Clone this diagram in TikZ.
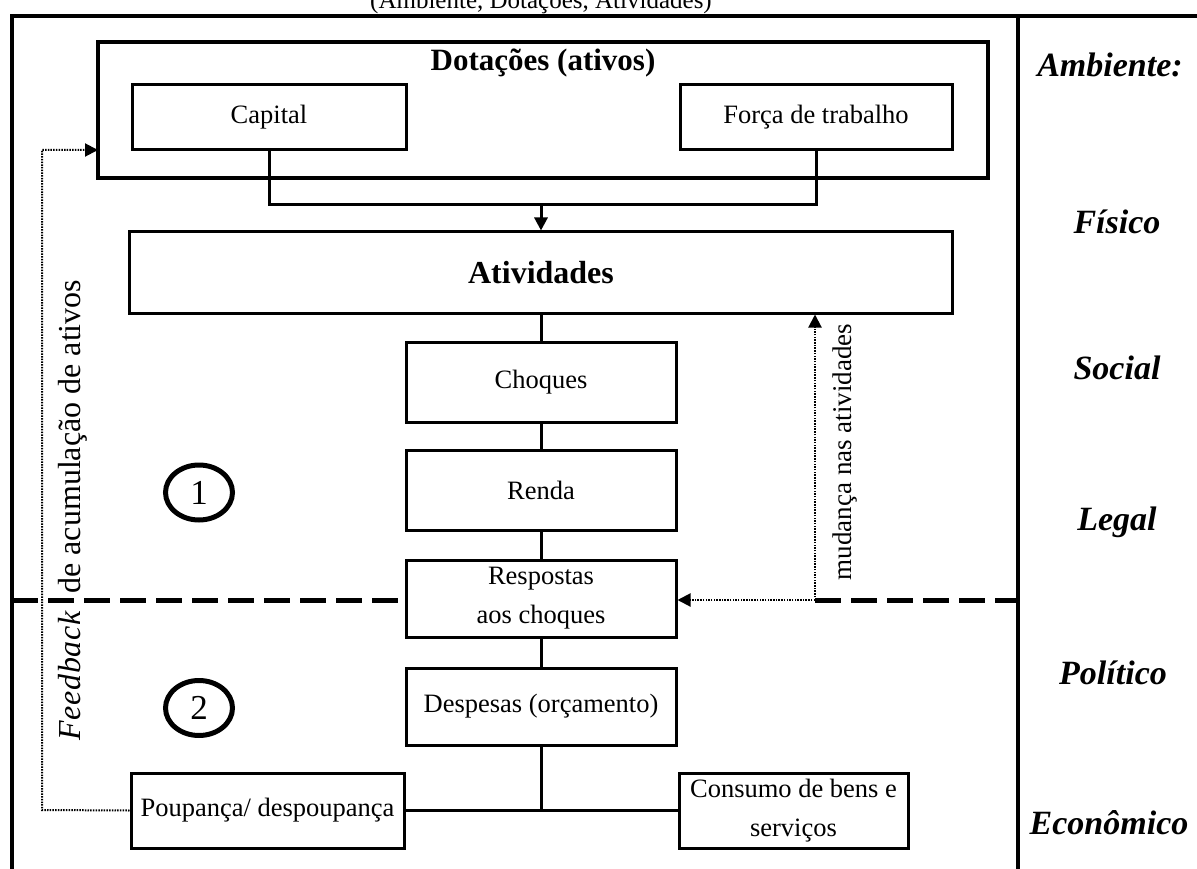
\documentclass[tikz,border=0pt]{standalone}
\usepackage{fontspec}
\setmainfont{Liberation Serif}
\usetikzlibrary{arrows.meta,shapes.geometric,calc}
\tikzset{
  box/.style={draw, line width=3pt, inner sep=0pt, align=center, font=\fontsize{26.5}{39}\selectfont},
  conn/.style={line width=3pt},
  dotline/.style={line width=2pt, dash pattern=on 1.5pt off 1.2pt},
  tip/.style={-{Triangle[length=13pt,width=13pt]}},
  frame/.style={line width=4pt},
  sep/.style={line width=5pt, dash pattern=on 26pt off 10pt},
  envlabel/.style={font=\fontsize{34}{36}\selectfont\bfseries\itshape},
  num/.style={draw, ellipse, line width=5pt, minimum width=67pt, minimum height=55pt, inner sep=0pt, font=\fontsize{35}{35}\selectfont},
  rot/.style={rotate=90, inner sep=0pt, anchor=base}
}
\begin{document}
\begin{tikzpicture}[x=1pt,y=-1pt]
\useasboundingbox (0,0) rectangle (1197,869);
% title (partly cut off, as in the reference)
\node[anchor=base, font=\fontsize{25}{25}\selectfont] (title) at (541,9) {(Ambiente, Dotações, Atividades)};
% frame
\coordinate (ftl) at (12,16);
\coordinate (fbl) at (12,869);
\coordinate (ftr) at (1197,16);
\coordinate (fst) at (1018,16);
\coordinate (fsb) at (1018,869);
\draw[frame] (fbl) -- (ftl) -- (ftr);
\draw[frame] (fst) -- (fsb);
% boxes
\node[box, line width=4.5pt, minimum width=890pt, minimum height=136pt] (dot) at (543,110) {};
\node[anchor=base, font=\fontsize{31}{31}\selectfont\bfseries] (dottitle) at (543,71) {Dotações (ativos)};
\node[box, minimum width=274pt, minimum height=65pt] (cap) at (269,117.5) {Capital};
\node[box, minimum width=272pt, minimum height=65pt] (ft) at (816,117.5) {Força de trabalho};
\node[box, minimum width=823pt, minimum height=81pt, font=\fontsize{32}{32}\selectfont\bfseries] (atv) at (541,272.5) {Atividades};
\node[box, minimum width=270pt, minimum height=80pt] (cho) at (541,382) {Choques};
\node[box, minimum width=270pt, minimum height=80pt] (ren) at (541,490) {Renda};
\node[box, minimum width=270pt, minimum height=77pt] (res) at (541,598.5) {Respostas\\aos choques};
\node[box, minimum width=270pt, minimum height=77pt] (des) at (541,706.5) {Despesas (orçamento)};
\node[box, minimum width=273pt, minimum height=75pt] (pou) at (267.5,810.5) {Poupança/ despoupança};
\node[box, minimum width=229pt, minimum height=75pt] (con) at (793.5,810.5) {Consumo de bens e\\serviços};
% numbered circles
\node[num] (n1) at (199,492.5) {1};
\node[num] (n2) at (199,708) {2};
% connectors
\coordinate (j) at (541,205);
\draw[conn] (cap.south) -- (cap.south |- j) -- (ft.south |- j) -- (ft.south);
\draw[conn, tip] (j) -- (atv.north);
\draw[conn] (atv.south) -- (cho.north);
\draw[conn] (cho.south) -- (ren.north);
\draw[conn] (ren.south) -- (res.north);
\draw[conn] (res.south) -- (des.north);
\draw[conn] (pou.east) -- (con.west);
\draw[conn] (des.south) -- (des.south |- pou.east);
% separator
\coordinate (mc) at (815,600);
\coordinate (sl) at (12,600);
\coordinate (sr) at (1018,600);
\draw[sep] (sl) -- (res.west |- sl);
\draw[sep] (mc) -- (sr);
% feedback
\coordinate (fbx) at (42,810);
\coordinate (fbin) at (98,150);
\draw[dotline, tip] (pou.west) -- (fbx) -- (fbx |- fbin) -- (fbin);
% change in activities
\draw[dotline, tip] (mc) -- (mc |- atv.south);
\draw[dotline, tip] (mc) -- (res.east |- mc);
% rotated labels
\node[rot, font=\fontsize{32}{32}\selectfont] (fbl) at (80,510) {{\addfontfeature{LetterSpace=2}\itshape Feedback}\hspace{10pt} de acumulação de ativos};
\node[rot, font=\fontsize{27}{27}\selectfont] (mul) at (851,452) {mudança nas atividades};
% environment labels
\node[envlabel] (a1) at (1110,65) {Ambiente:};
\node[envlabel] (a2) at (1117,222) {Físico};
\node[envlabel] (a3) at (1117,368) {Social};
\node[envlabel] (a4) at (1117,522) {Legal};
\node[envlabel] (a5) at (1113,673) {Político};
\node[envlabel] (a6) at (1109,823) {Econômico};
\end{tikzpicture}
\end{document}
